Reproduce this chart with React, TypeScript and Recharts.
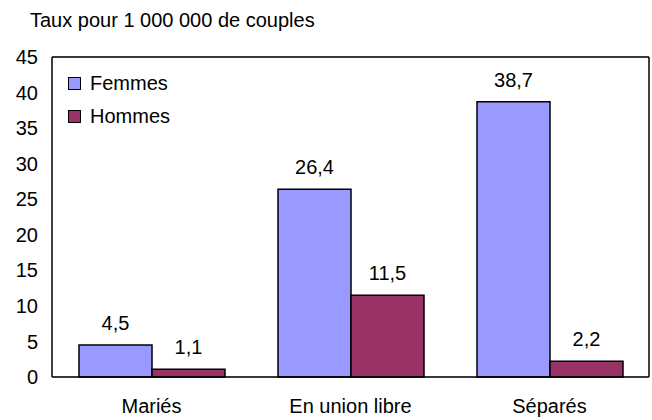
import React from 'react'
import {
  Bar,
  BarChart,
  CartesianGrid,
  LabelList,
  ReferenceLine,
  XAxis,
  YAxis,
} from 'recharts'

const categories = ['Mariés', 'En union libre', 'Séparés']
const femmes = [4.5, 26.4, 38.7]
const hommes = [1.1, 11.5, 2.2]
const yTicks = [0, 5, 10, 15, 20, 25, 30, 35, 40, 45]

const palette = {
  femmes: '#9999FF',
  hommes: '#993366',
  grid: '#C0C0C0',
  text: '#000000',
}

const font = 'Arial, "Liberation Sans", sans-serif'

const data = categories.map((c, i) => ({ cat: c, femmes: femmes[i], hommes: hommes[i] }))

const fmt = (v: any) => String(v).replace('.', ',')

function LegendBox() {
  const items = [
    { label: 'Femmes', color: palette.femmes },
    { label: 'Hommes', color: palette.hommes },
  ]
  return (
    <div
      style={{
        position: 'absolute',
        left: 58,
        top: 67,
        width: 128,
        background: '#fff',
        fontFamily: font,
      }}
    >
      {items.map((it) => (
        <div
          key={it.label}
          style={{
            display: 'flex',
            alignItems: 'center',
            height: 33,
            fontSize: 20,
            color: palette.text,
            paddingLeft: 10,
          }}
        >
          <span
            style={{
              display: 'inline-block',
              boxSizing: 'border-box',
              width: 13,
              height: 13,
              background: it.color,
              border: '1.5px solid #000',
              marginRight: 9,
            }}
          />
          {it.label}
        </div>
      ))}
    </div>
  )
}

export default function App() {
  return (
    <div style={{ position: 'absolute', left: 0, top: 0, width: 652, height: 420, background: '#fff' }}>
      <div
        style={{
          position: 'absolute',
          left: 30,
          top: 8,
          fontSize: 20,
          lineHeight: '24px',
          fontFamily: font,
          color: palette.text,
        }}
      >
        Taux pour 1 000 000 de couples
      </div>
      <BarChart
        width={652}
        height={420}
        data={data}
        margin={{ top: 57, right: 0, left: 0, bottom: 0 }}
        barCategoryGap={27}
        barGap={0}
      >
        <CartesianGrid horizontal vertical={false} stroke={palette.grid} />
        <XAxis
          dataKey="cat"
          height={43}
          axisLine={{ stroke: '#000', strokeWidth: 1.5 }}
          tickLine={false}
          tick={{ fontSize: 20, fill: palette.text, fontFamily: font }}
          tickMargin={16}
        />
        <YAxis
          yAxisId="left"
          width={52}
          domain={[0, 45]}
          ticks={yTicks}
          interval={0}
          axisLine={{ stroke: '#000', strokeWidth: 1.5 }}
          tickLine={false}
          tick={{ fontSize: 20, fill: palette.text, fontFamily: font }}
          tickMargin={8}
        />
        <YAxis
          yAxisId="right"
          orientation="right"
          width={3}
          domain={[0, 45]}
          tick={false}
          tickLine={false}
          axisLine={{ stroke: '#000', strokeWidth: 1.5 }}
        />
        <ReferenceLine yAxisId="left" y={45} stroke="#000" strokeWidth={1.5} />
        <Bar
          yAxisId="left"
          dataKey="femmes"
          name="Femmes"
          fill={palette.femmes}
          stroke="#000"
          strokeWidth={1.5}
          isAnimationActive={false}
        >
          <LabelList
            dataKey="femmes"
            position="top"
            offset={15}
            formatter={fmt}
            style={{ fontSize: 20, fill: palette.text, fontFamily: font }}
          />
        </Bar>
        <Bar
          yAxisId="left"
          dataKey="hommes"
          name="Hommes"
          fill={palette.hommes}
          stroke="#000"
          strokeWidth={1.5}
          isAnimationActive={false}
        >
          <LabelList
            dataKey="hommes"
            position="top"
            offset={15}
            formatter={fmt}
            style={{ fontSize: 20, fill: palette.text, fontFamily: font }}
          />
        </Bar>
      </BarChart>
      <LegendBox />
    </div>
  )
}
